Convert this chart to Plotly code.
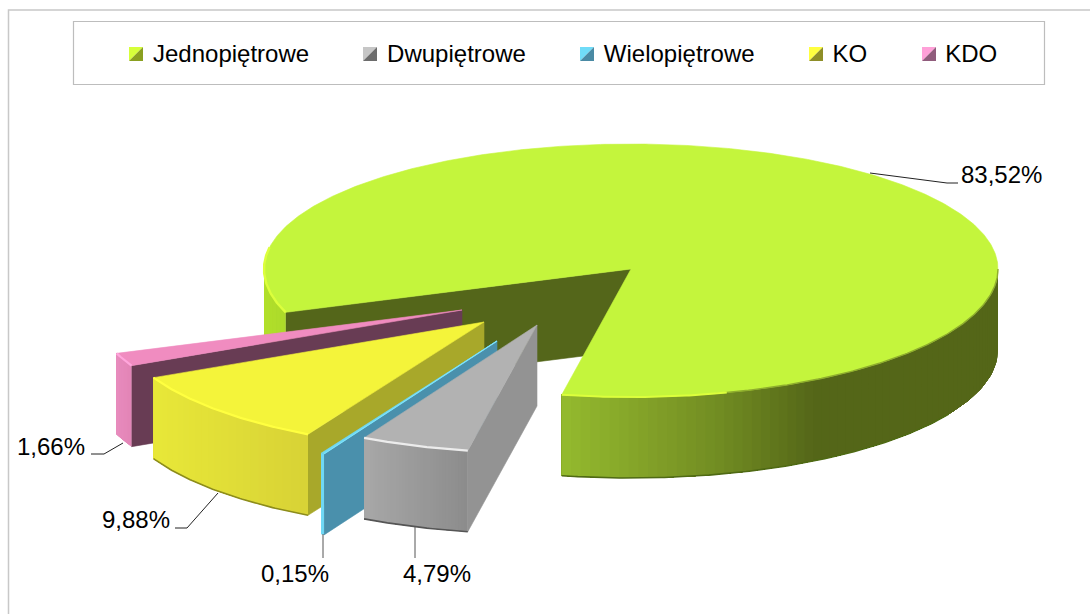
import math
import plotly.graph_objects as go

# ---- data ----
categories = ["Jednopiętrowe", "Dwupiętrowe", "Wielopiętrowe", "KO", "KDO"]
values = [83.52, 4.79, 0.15, 9.88, 1.66]

# ---- geometry / style (pixels, projected pie) ----
W, H = 1090, 614
RX, RY_FRONT, RY_BACK, DEPTH = 367, 128, 125, 81
START = 70.2  # degrees clockwise from the front of the pie
APEX = {"Jednopiętrowe": (631, 269), "Dwupiętrowe": (537, 325), "Wielopiętrowe": (497, 341),
        "KO": (484, 322), "KDO": (462, 310)}
TOP = {"Jednopiętrowe": "#c4f53c", "Dwupiętrowe": "#b2b2b2", "Wielopiętrowe": "#6fd8f5",
       "KO": "#f4f43a", "KDO": "#f08cc0"}
SIDE = {"Jednopiętrowe": "#54661a", "Dwupiętrowe": "#939393", "Wielopiętrowe": "#4a90ac",
        "KO": "#a8a82a", "KDO": "#683c54"}
RIM = {"Jednopiętrowe": "#dcff3c", "Dwupiętrowe": "#ececec", "Wielopiętrowe": "#7ee4fc",
       "KO": "#ffff40", "KDO": "#ffa6dc"}
BOTTOM = {"Jednopiętrowe": "#4f6a14", "Dwupiętrowe": "#555555", "Wielopiętrowe": "#3d7890",
          "KO": "#8c8c1c", "KDO": "#50283e"}
# wall colour stops: (x pixel, rgb)
WALL = {
    "Jednopiętrowe": [(263, (178, 224, 44)), (285, (172, 218, 42)), (563, (148, 186, 46)), (650, (130, 160, 40)),
                      (720, (113, 140, 34)), (815, (84, 102, 24)), (1000, (84, 102, 24))],
    "Dwupiętrowe": [(363, (168, 168, 168)), (468, (140, 140, 140))],
    "Wielopiętrowe": [(320, (111, 216, 245)), (325, (111, 216, 245))],
    "KO": [(152, (232, 232, 56)), (308, (216, 210, 54))],
    "KDO": [(116, (232, 140, 190)), (132, (226, 132, 182))],
}
ICONS = {"Jednopiętrowe": (129, "#d6ff3a", "#8aa020"), "Dwupiętrowe": (363, "#c6c6c6", "#6c6c6c"),
         "Wielopiętrowe": (580, "#70dcf8", "#4a8aa4"), "KO": (809, "#ffff40", "#8e8e28"),
         "KDO": (922, "#ffa0d8", "#905c7c")}
LABEL = {"Jednopiętrowe": (1001, 174), "Dwupiętrowe": (437, 573), "Wielopiętrowe": (295, 573),
         "KO": (136, 519), "KDO": (51, 446)}
LEADER = {"Jednopiętrowe": [(870, 173), (947, 183), (958, 183)],
          "Dwupiętrowe": [(415, 527), (415, 558)],
          "Wielopiętrowe": [(323, 534), (323, 558)],
          "KO": [(175, 528), (187, 528), (218, 493)],
          "KDO": [(91, 454), (104, 454), (123, 443)]}
LEADER_COLOR = {"Jednopiętrowe": "#222222", "Dwupiętrowe": "#555555", "Wielopiętrowe": "#555555",
                "KO": "#222222", "KDO": "#222222"}

fig = go.Figure()


def poly(xs, ys, color, lw=0.6):
    fig.add_trace(go.Scatter(x=list(xs) + [xs[0]], y=list(ys) + [ys[0]], mode="lines", fill="toself",
                             fillcolor=color, line=dict(color=color, width=lw),
                             showlegend=False, hoverinfo="skip"))


def stroke(xs, ys, color, width):
    fig.add_trace(go.Scatter(x=list(xs), y=list(ys), mode="lines", line=dict(color=color, width=width),
                             showlegend=False, hoverinfo="skip"))


def pt(apex, deg):
    t = math.radians(deg)
    c = math.cos(t)
    return apex[0] - RX * math.sin(t), apex[1] + (RY_FRONT if c > 0 else RY_BACK) * c


def arc(apex, a, b, step=1.0):
    n = max(2, int(abs(b - a) / step) + 1)
    return [pt(apex, a + (b - a) * i / (n - 1)) for i in range(n)]


def wall_color(name, x):
    stops = WALL[name]
    if x <= stops[0][0]:
        return "rgb(%d,%d,%d)" % stops[0][1]
    for (x0, c0), (x1, c1) in zip(stops, stops[1:]):
        if x <= x1:
            f = (x - x0) / (x1 - x0)
            return "rgb(%d,%d,%d)" % tuple(round(p + (q - p) * f) for p, q in zip(c0, c1))
    return "rgb(%d,%d,%d)" % stops[-1][1]


def draw_wall(name, a, b):
    """Outer wall; each band runs to the end of the wall and the next paints over it, so no seams."""
    apex = APEX[name]
    pts = arc(apex, a, b, step=(1.5 if abs(b - a) > 20 else 0.5))
    for i in range(len(pts) - 1):
        rest = pts[i:]
        xs = [p[0] for p in rest] + [p[0] for p in reversed(rest)]
        ys = [p[1] for p in rest] + [p[1] + DEPTH for p in reversed(rest)]
        poly(xs, ys, wall_color(name, (pts[i][0] + pts[i + 1][0]) / 2), lw=0)


def draw_cut(name, deg):
    apex = APEX[name]
    e = pt(apex, deg)
    poly([apex[0], e[0], e[0], apex[0]], [apex[1], e[1], e[1] + DEPTH, apex[1] + DEPTH], SIDE[name])


def draw_top(name, a, b):
    apex = APEX[name]
    pts = arc(apex, a, b, step=0.5)
    poly([apex[0]] + [p[0] for p in pts], [apex[1]] + [p[1] for p in pts], TOP[name])


def edge(name, a, b, width=2.2, color=None):
    pts = arc(APEX[name], a, b, step=0.5)
    stroke([p[0] for p in pts], [p[1] for p in pts], color or RIM[name], width)


def under(name, a, b, width=1.6):
    pts = arc(APEX[name], a, b, step=0.5)
    stroke([p[0] for p in pts], [p[1] + DEPTH for p in pts], BOTTOM[name], width)


# ---- slice angles come straight from the values ----
spans = {}
angle = START
for name, v in zip(categories, values):
    sweep = v / sum(values) * 360
    spans[name] = (angle, angle + sweep)
    angle += sweep

# back to front: main slice
name = "Jednopiętrowe"
a, b = spans[name]
draw_cut(name, a)
draw_wall(name, a, 90)
draw_wall(name, 270, b)
draw_top(name, a, b)
edge(name, 270, b - 24, 1.4, "#8fae2e")
edge(name, a, 100, 2.4)
edge(name, b - 26, b, 2.0)
under(name, 300, b)

name = "KDO"
a, b = spans[name]
draw_cut(name, a)
draw_wall(name, a, b)
draw_top(name, a, b)
edge(name, a, b)

name = "KO"
a, b = spans[name]
draw_cut(name, a)
draw_wall(name, a, b)
draw_top(name, a, b)
edge(name, a, b)
under(name, a, b)

name = "Wielopiętrowe"
a, b = spans[name]
draw_cut(name, a)
draw_wall(name, a, b)
draw_top(name, a, b)
ap, e0 = APEX[name], pt(APEX[name], a)
stroke([ap[0], e0[0]], [ap[1], e0[1]], RIM[name], 1.1)

name = "Dwupiętrowe"
a, b = spans[name]
draw_cut(name, a)
draw_wall(name, a, b)
draw_top(name, a, b)
edge(name, a, b)
under(name, a, b)

# leader lines
for name in categories:
    pts = LEADER[name]
    stroke([p[0] for p in pts], [p[1] for p in pts], LEADER_COLOR[name], 1)

# legend entries (keys drawn below as two-tone squares)
for name in categories:
    fig.add_trace(go.Scatter(x=[None], y=[None], mode="markers", name=name,
                             marker=dict(color="rgba(0,0,0,0)", symbol="square", size=10)))

shapes = [
    dict(type="rect", x0=8.5, y0=10, x1=W + 20, y1=H + 20, line=dict(color="#c8c8c8", width=1.5), layer="below"),
    dict(type="rect", x0=73.5, y0=21.5, x1=1044.5, y1=84.5, line=dict(color="#bdbdbd", width=1.2), layer="below"),
]
for name in categories:
    x0, light, dark = ICONS[name]
    shapes.append(dict(type="path", path=f"M{x0},47 L{x0 + 14},47 L{x0},61 Z", fillcolor=light, line_width=0, layer="below"))
    shapes.append(dict(type="path", path=f"M{x0 + 14},47 L{x0 + 14},61 L{x0},61 Z", fillcolor=dark, line_width=0, layer="below"))

annotations = []
for name, v in zip(categories, values):
    x, y = LABEL[name]
    annotations.append(dict(x=x, y=y, xref="x", yref="y", text=f"{v:.2f}%".replace(".", ","), showarrow=False,
                            font=dict(family="Liberation Sans", size=24, color="#000000")))

fig.update_layout(
    width=W, height=H, margin=dict(l=0, r=0, t=0, b=0), paper_bgcolor="white", plot_bgcolor="white",
    xaxis=dict(range=[0, W], visible=False, fixedrange=True),
    yaxis=dict(range=[H, 0], visible=False, fixedrange=True),
    shapes=shapes, annotations=annotations, hovermode=False,
    legend=dict(orientation="h", x=(153 - 73) / W, xanchor="left", y=1 - 53 / H, yanchor="middle",
                itemwidth=63, bgcolor="rgba(0,0,0,0)", itemclick=False, itemdoubleclick=False,
                font=dict(family="Liberation Sans", size=24, color="#000000")),
)
fig.write_html("out.html", config={"displayModeBar": False},
               post_script="document.body.style.margin='0';document.body.style.overflow='hidden';")
